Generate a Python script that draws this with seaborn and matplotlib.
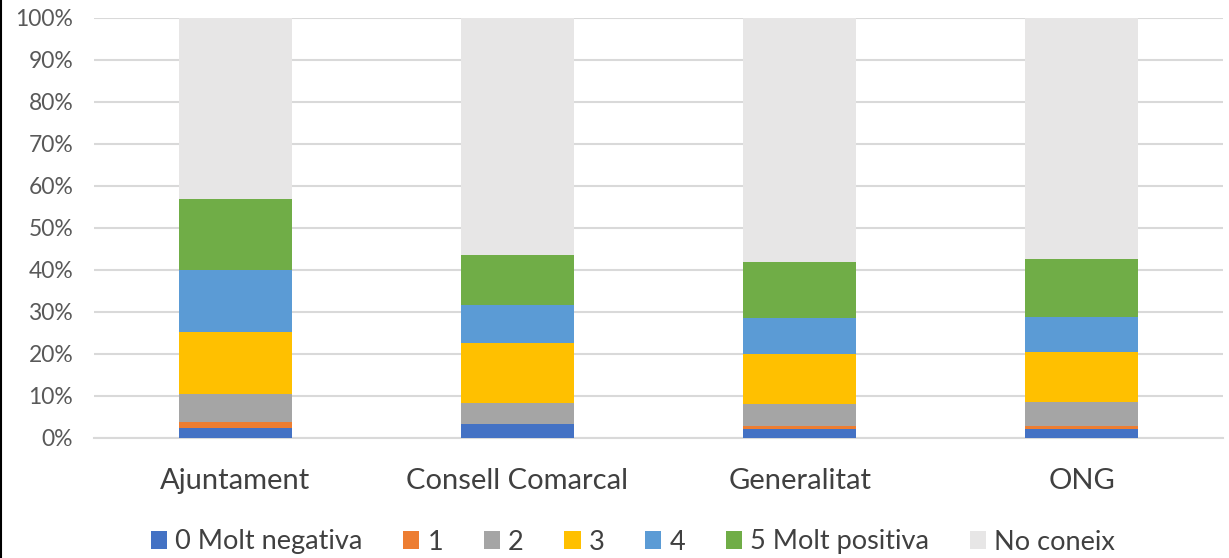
import matplotlib
matplotlib.use("Agg")
import matplotlib.pyplot as plt
import seaborn as sns
import numpy as np
import pandas as pd
from matplotlib.patches import Patch
from matplotlib.lines import Line2D

categories = ["Ajuntament", "Consell Comarcal", "Generalitat", "ONG"]
series_names = ["0 Molt negativa", "1", "2", "3", "4", "5 Molt positiva", "No coneix"]
v0 = [2.3, 3.3, 2.0, 2.0]
v1 = [1.4, 0.0, 0.8, 0.8]
v2 = [6.6, 4.8, 5.2, 5.7]
v3 = [14.8, 14.4, 12.0, 11.9]
v4 = [14.9, 9.0, 8.5, 8.2]
v5 = [16.8, 12.0, 13.4, 13.8]
v6 = [43.2, 56.5, 58.1, 57.6]
yticks = [0, 10, 20, 30, 40, 50, 60, 70, 80, 90, 100]
ytick_labels = [f"{t}%" for t in yticks]

colors = ["#4472C4", "#ED7D31", "#A5A5A5", "#FFC000", "#5B9BD5", "#70AD47", "#E7E6E6"]

sns.set_theme(style="white")
plt.rcParams['font.family'] = ['Lato', 'DejaVu Sans']

fig = plt.figure(figsize=(12.29, 5.58), dpi=100)
ax = fig.add_axes([94/1229, 1-437.5/558, (1223-94)/1229, 420/558])

values = [v0, v1, v2, v3, v4, v5, v6]
bottom = np.zeros(len(categories))
for name, vals, col in zip(series_names, values, colors):
    df = pd.DataFrame({"cat": categories, "val": vals})
    sns.barplot(data=df, x="cat", y="val", color=col, bottom=bottom, width=0.4,
                ax=ax, saturation=1, zorder=3, linewidth=0)
    bottom = bottom + np.array(vals)

ax.set_ylim(0, 100)
ax.set_xlim(-0.5, 3.5)
ax.set_yticks(yticks)
ax.set_yticklabels(ytick_labels, fontsize=16.5, color="#595959")
ax.tick_params(axis='x', labelsize=21, labelcolor="#404040", pad=22, length=0)
ax.tick_params(axis='y', length=0, pad=15)
ax.set_xlabel("")
ax.set_ylabel("")
ax.yaxis.grid(True, color="#D9D9D9", linewidth=1.5, zorder=0)
ax.set_axisbelow(True)
for s in ["top", "right", "left"]:
    ax.spines[s].set_visible(False)
ax.spines["bottom"].set_color("#D9D9D9")
ax.spines["bottom"].set_linewidth(1.5)

handles = [Patch(facecolor=c, edgecolor='none') for c in colors]
fig.legend(handles, series_names, loc="center", bbox_to_anchor=(0.515, 1-542/558),
           ncol=7, frameon=False, fontsize=19.5, handlelength=0.6, handleheight=0.6,
           handletextpad=0.3, columnspacing=1.5, labelcolor="#404040")

fig.add_artist(Line2D([0.001, 0.001], [0, 1], color="black", linewidth=1.5,
                      transform=fig.transFigure))

fig.savefig("out.png", dpi=100)
